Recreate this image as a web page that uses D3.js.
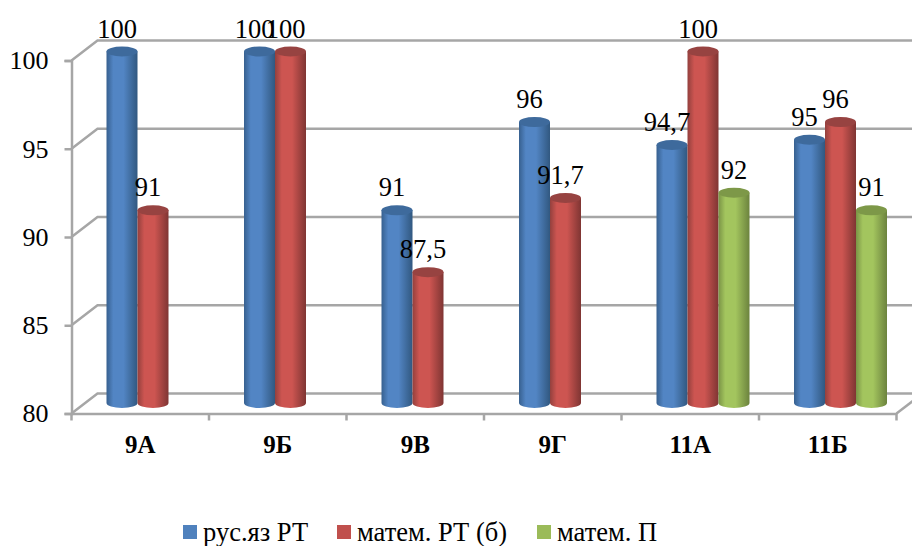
<!DOCTYPE html>
<html>
<head>
<meta charset="utf-8">
<script src="https://cdn.jsdelivr.net/npm/d3@7"></script>
<style>
  html, body { margin: 0; padding: 0; background: #fff; }
  svg { display: block; font-family: "Liberation Serif", serif; }
</style>
</head>
<body>
<div id="chart"></div>
<script>
// Data
var categories = ["9А", "9Б", "9В", "9Г", "11А", "11Б"];
var seriesNames = ["рус.яз РТ", "матем. РТ (б)", "матем. П"];
var rusValues = [100, 100, 91, 96, 94.7, 95];
var matBValues = [91, 100, 87.5, 91.7, 100, 96];
var matPValues = [null, null, null, null, 92, 91];
var yTicks = [80, 85, 90, 95, 100];

var allSeries = [rusValues, matBValues, matPValues];
var colors = [
  { edge: "#37608f", mid: "#5285c4", dark: "#315880", top: "#3e6a9c" },
  { edge: "#93403d", mid: "#cd5551", dark: "#7f3533", top: "#974341" },
  { edge: "#7a9446", mid: "#a3c55e", dark: "#6c833e", top: "#7d9848" }
];
var labelShift = [-5, -5, 0];

var width = 912, height = 546;
var depthX = 26, depthY = -20;      // offset of the back wall
var barRy = 5;

var svg = d3.select("#chart").append("svg")
  .attr("width", width)
  .attr("height", height);

var x0 = d3.scaleBand().domain(categories).range([71.5, 896.5]);
var x1 = d3.scaleBand().domain(d3.range(3)).range([35, 128]);
var y = d3.scaleLinear().domain([80, 100]).range([413.5, 60.5]);

// horizontal gradients give the cylinder look
var defs = svg.append("defs");
colors.forEach(function(c, i) {
  var g = defs.append("linearGradient").attr("id", "cyl" + i);
  g.append("stop").attr("offset", "0%").attr("stop-color", c.edge);
  g.append("stop").attr("offset", "22%").attr("stop-color", c.mid);
  g.append("stop").attr("offset", "55%").attr("stop-color", c.mid);
  g.append("stop").attr("offset", "100%").attr("stop-color", c.dark);
});

var wallColor = "#a6a6a6";
var wallWidth = 2.5;

// gridlines on the back wall with the slanted part on the left side
var grid = svg.append("g").attr("fill", "none").attr("stroke", wallColor).attr("stroke-width", wallWidth);
grid.selectAll("path")
  .data(yTicks)
  .enter()
  .append("path")
  .attr("d", function(d) {
    return "M" + x0.range()[0] + "," + y(d) +
      "L" + (x0.range()[0] + depthX) + "," + (y(d) + depthY) +
      "L" + (x0.range()[1] + depthX) + "," + (y(d) + depthY);
  });
// floor edge on the right
grid.append("path")
  .attr("d", "M" + x0.range()[1] + "," + y(80) +
    "L" + (x0.range()[1] + depthX) + "," + (y(80) + depthY));

// axes
var yAxis = d3.axisLeft(y).tickValues(yTicks).tickSize(7).tickPadding(16);
var yG = svg.append("g").attr("transform", "translate(" + x0.range()[0] + ",0)").call(yAxis);
var xAxis = d3.axisBottom(x0).tickSize(0).tickPadding(22);
var xG = svg.append("g").attr("transform", "translate(0," + y(80) + ")").call(xAxis);
xG.selectAll("line").remove();
xG.selectAll("g.cat").data(x0.domain().map(function(c) { return x0(c); }).concat([x0.range()[1]]))
  .enter().append("line")
  .attr("x1", function(d) { return d; })
  .attr("x2", function(d) { return d; })
  .attr("y1", 0).attr("y2", 7)
  .attr("stroke", wallColor).attr("stroke-width", wallWidth);

[yG, xG].forEach(function(g) {
  g.selectAll(".domain").attr("stroke", wallColor).attr("stroke-width", wallWidth);
  g.selectAll(".tick line").attr("stroke", wallColor).attr("stroke-width", wallWidth);
  g.selectAll("text").attr("fill", "#000").style("font-family", "Liberation Serif, serif");
});
yG.selectAll("text").style("font-size", "26px");
xG.selectAll("text").style("font-size", "25px").style("font-weight", "bold");

// bars, drawn series by series
var rows = [];
categories.forEach(function(c, i) {
  allSeries.forEach(function(vals, s) {
    if (vals[i] !== null) rows.push({ cat: c, s: s, value: vals[i] });
  });
});

var barY = function(v) { return y(v) - 9; };
var bw = x1.bandwidth();

var bars = svg.append("g").selectAll("g")
  .data(rows)
  .enter()
  .append("g")
  .attr("transform", function(d) { return "translate(" + (x0(d.cat) + x1(d.s)) + ",0)"; });

bars.append("path")
  .attr("fill", function(d) { return "url(#cyl" + d.s + ")"; })
  .attr("d", function(d) {
    var top = barY(d.value), bottom = barY(80) - 1.5;
    return "M0," + top + "L0," + bottom +
      "A" + (bw / 2) + "," + barRy + " 0 0 0 " + bw + "," + bottom +
      "L" + bw + "," + top + "Z";
  });

bars.append("ellipse")
  .attr("cx", bw / 2)
  .attr("cy", function(d) { return barY(d.value); })
  .attr("rx", bw / 2)
  .attr("ry", barRy)
  .attr("fill", function(d) { return colors[d.s].top; });

// data labels go on top of all bars
var fmt = function(v) { return String(v).replace(".", ","); };
svg.append("g").selectAll("text")
  .data(rows)
  .enter()
  .append("text")
  .attr("x", function(d) { return x0(d.cat) + x1(d.s) + bw / 2 + labelShift[d.s]; })
  .attr("y", function(d) { return barY(d.value) - 14; })
  .attr("text-anchor", "middle")
  .style("font-size", "26.5px")
  .text(function(d) { return fmt(d.value); });

// legend
var legendX = [183, 337, 537];
var legend = svg.append("g").selectAll("g")
  .data(seriesNames)
  .enter()
  .append("g")
  .attr("transform", function(d, i) { return "translate(" + legendX[i] + ",525)"; });
legend.append("rect")
  .attr("width", 14).attr("height", 14)
  .attr("fill", function(d, i) { return ["#4f81bd", "#c0504d", "#9bbb59"][i]; });
legend.append("text")
  .attr("x", 20).attr("y", 16)
  .style("font-size", "26.5px")
  .text(function(d) { return d; });
</script>
</body>
</html>
